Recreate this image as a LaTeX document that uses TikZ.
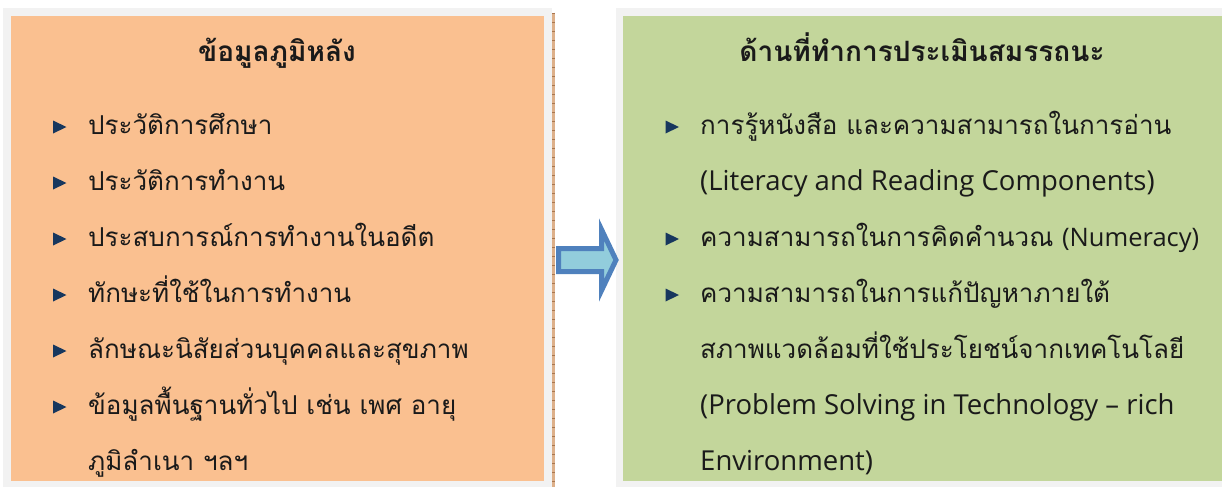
\documentclass[tikz,border=0pt]{standalone}
\usepackage{fontspec}
\newfontfamily\thaifont[Script=Thai]{Loma}
\newfontfamily\latfont{Open Sans}
\newcommand{\lat}[2][27.5]{{\latfont\fontsize{#1}{#1}\selectfont #2}}
\definecolor{peach}{HTML}{FAC090}
\definecolor{olive}{HTML}{C3D69B}
\definecolor{framegray}{HTML}{F2F2F2}
\definecolor{arrowblue}{HTML}{4F81BD}
\definecolor{arrowfill}{HTML}{92CDDC}
\definecolor{navy}{HTML}{17375E}
\definecolor{tan}{HTML}{DDB08A}
\definecolor{darktan}{HTML}{A8764E}
\definecolor{textc}{HTML}{1A1A1A}
\tikzset{
  frame/.style={fill=framegray, inner sep=0pt, outer sep=0pt, anchor=north west},
  panel/.style={inner sep=0pt, outer sep=0pt, anchor=north west},
  title/.style={anchor=base, inner sep=0pt, text=textc, font=\thaifont\bfseries\fontsize{28}{28}\selectfont},
  item/.style={anchor=base west, inner sep=0pt, text=textc, font=\thaifont\fontsize{26}{26}\selectfont},
  bul/.pic={\fill[navy] (-6.5,-6.5) -- (7,0) -- (-6.5,6.5) -- cycle;}
}
\begin{document}
\begin{tikzpicture}[x=1pt,y=-1pt]
\useasboundingbox (0,0) rectangle (1222,487);
\fill[white] (0,0) rectangle (1222,487);
% frames
\node[frame, minimum width=549pt, minimum height=479pt] (Lframe) at (3,8) {};
\node[frame, minimum width=606pt, minimum height=479pt] (Rframe) at (616,8) {};
\node[panel, fill=peach, minimum width=533pt, minimum height=465pt] (L) at (11,16) {};
\node[panel, fill=olive, minimum width=599pt, minimum height=465pt] (R) at (623,16) {};
% dotted edge
\coordinate (dtop) at (553.5,13);
\coordinate (dbot) at (553.5,487);
\draw[tan, line width=3pt] (dtop) -- (dbot);
\draw[darktan, line width=3pt, dash pattern=on 1pt off 8pt] (dtop) -- (dbot);
% arrow
\draw[arrowblue, fill=arrowfill, line width=5pt, line join=miter]
  (558.5,248.5) -- (601.5,248.5) -- (601.5,229.5) -- (616,260) -- (601.5,290.5)
  -- (601.5,271.5) -- (558.5,271.5) -- cycle;
% titles
\node[title] (Ltitle) at (277,62) {ข้อมูลภูมิหลัง};
\node[title] (Rtitle) at (922,62) {ด้านที่ทำการประเมินสมรรถนะ};
% left items
\pic at (59.5,127) {bul};
\pic at (59.5,183) {bul};
\pic at (59.5,239) {bul};
\pic at (59.5,295) {bul};
\pic at (59.5,351) {bul};
\pic at (59.5,407) {bul};
\node[item] (l1) at (88,134) {ประวัติการศึกษา};
\node[item] (l2) at (88,190) {ประวัติการทำงาน};
\node[item] (l3) at (88,246) {ประสบการณ์การทำงานในอดีต};
\node[item] (l4) at (88,302) {ทักษะที่ใช้ในการทำงาน};
\node[item] (l5) at (88,358) {ลักษณะนิสัยส่วนบุคคลและสุขภาพ};
\node[item] (l6) at (88,414) {ข้อมูลพื้นฐานทั่วไป เช่น เพศ อายุ};
\node[item] (l7) at (88,470) {ภูมิลำเนา ฯลฯ};
% right items
\pic at (672,127) {bul};
\pic at (672,239) {bul};
\pic at (672,295) {bul};
\node[item] (r1) at (700,134) {การรู้หนังสือ และความสามารถในการอ่าน};
\node[item] (r2) at (700,190) {\lat{(Literacy and Reading Components)}};
\node[item] (r3) at (700,246) {ความสามารถในการคิดคำนวณ \lat[25.5]{(Numeracy)}};
\node[item] (r4) at (700,302) {ความสามารถในการแก้ปัญหาภายใต้};
\node[item] (r5) at (700,358) {สภาพแวดล้อมที่ใช้ประโยชน์จากเทคโนโลยี};
\node[item] (r6) at (700,414) {\lat{(Problem Solving in Technology – rich}};
\node[item] (r7) at (700,470) {\lat{Environment)}};
\end{tikzpicture}
\end{document}
